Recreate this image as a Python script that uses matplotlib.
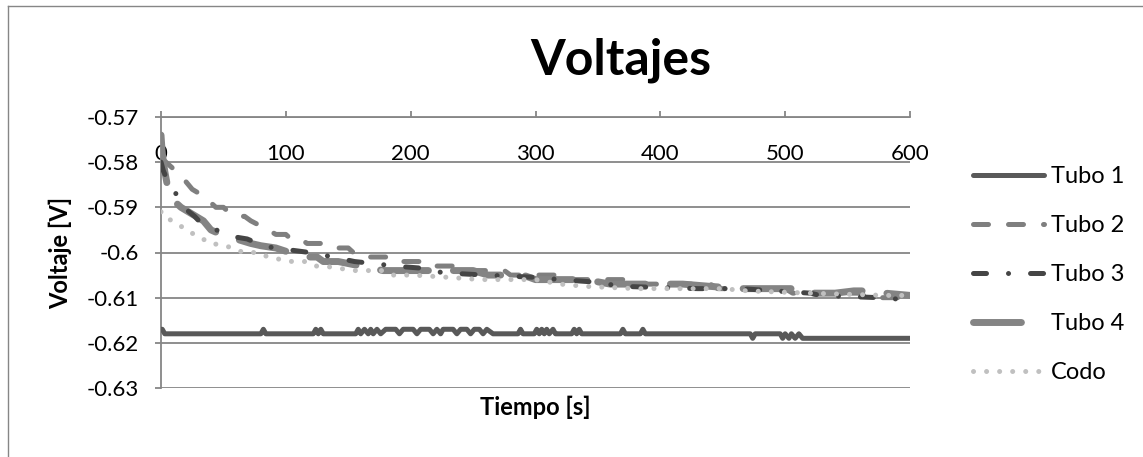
import matplotlib
matplotlib.use("Agg")
import matplotlib.pyplot as plt
from matplotlib.lines import Line2D

# ---------------- data ----------------
title = "Voltajes"
xlabel = "Tiempo [s]"
ylabel = "Voltaje [V]"
series_names = ["Tubo 1", "Tubo 2", "Tubo 3", "Tubo 4", "Codo"]

x_ticks = [0, 100, 200, 300, 400, 500, 600]
y_ticks = [-0.57, -0.58, -0.59, -0.60, -0.61, -0.62, -0.63]
y_tick_labels = ["-0.57", "-0.58", "-0.59", "-0.6", "-0.61", "-0.62", "-0.63"]

t_tubo1 = [0, 1, 3, 80, 82, 84, 122, 124, 126, 128, 130, 156, 158, 160, 163, 166, 168,
           170, 173, 176, 180, 185, 188, 191, 194, 202, 205, 208, 215, 218, 221, 224, 226,
           229, 234, 237, 240, 245, 248, 251, 255, 258, 261, 266, 286, 288, 290, 299, 301,
           303, 305, 307, 309, 311, 314, 316, 318, 329, 331, 333, 335, 337, 368, 370, 372,
           384, 386, 388, 472, 474, 476, 496, 498, 500, 503, 505, 508, 511, 514, 518, 600]
v_tubo1 = [-0.617, -0.617, -0.618, -0.618, -0.617, -0.618, -0.618, -0.617, -0.618, -0.617, -0.618,
           -0.618, -0.617, -0.618, -0.617, -0.618, -0.617,
           -0.618, -0.617, -0.618, -0.617, -0.617, -0.617, -0.618, -0.617, -0.617, -0.618, -0.617,
           -0.617, -0.618, -0.617, -0.618, -0.617,
           -0.617, -0.617, -0.618, -0.617, -0.617, -0.618, -0.617, -0.617, -0.618, -0.617, -0.618,
           -0.618, -0.617, -0.618, -0.618, -0.617,
           -0.618, -0.617, -0.618, -0.617, -0.618, -0.617, -0.618, -0.618, -0.618, -0.617, -0.618,
           -0.617, -0.618, -0.618, -0.617, -0.618,
           -0.618, -0.617, -0.618, -0.618, -0.619, -0.618, -0.618, -0.619, -0.618, -0.619,
           -0.618, -0.619, -0.618, -0.619, -0.619, -0.619]

t_tubo2 = [0, 4, 8, 12, 16, 19, 22, 25, 31, 36, 40, 44, 50, 54, 60, 67, 72, 79, 86, 92, 100,
           104, 112, 117, 135, 141, 150, 154, 162, 166, 186, 190, 212, 216, 238, 242, 275,
           280, 320, 326, 370, 376, 440, 446, 500, 506, 560, 566, 600]
v_tubo2 = [-0.579, -0.580, -0.581, -0.582, -0.583, -0.584, -0.585, -0.586, -0.587, -0.588,
           -0.589, -0.590, -0.590, -0.591, -0.592, -0.592, -0.593, -0.594, -0.595, -0.596,
           -0.596, -0.597, -0.597, -0.598, -0.598, -0.599, -0.599, -0.600, -0.600, -0.601,
           -0.601, -0.602, -0.602, -0.603, -0.603, -0.604, -0.604, -0.605, -0.605, -0.606,
           -0.606, -0.607, -0.607, -0.608, -0.608, -0.609, -0.609, -0.610, -0.610]

t_tubo3 = [0, 2, 6, 12, 18, 27, 32, 38, 50, 58, 69, 82, 91, 105, 119, 138, 155, 172, 187,
           210, 226, 260, 300, 320, 345, 370, 430, 464, 520, 528, 575, 600]
v_tubo3 = [-0.580, -0.582, -0.5845, -0.587, -0.590, -0.592, -0.5935, -0.5945, -0.5955,
           -0.5965, -0.597, -0.5985, -0.599, -0.5995, -0.600, -0.601, -0.602, -0.6025,
           -0.603, -0.6035, -0.6045, -0.605, -0.6055, -0.606, -0.6065, -0.6075, -0.608,
           -0.608, -0.609, -0.6095, -0.610, -0.6105]

t_tubo4 = [0, 1, 3, 5, 8, 12, 16, 22, 28, 34, 40, 48, 60, 72, 80, 92, 103, 115, 125, 130,
           142, 160, 178, 224, 250, 262, 290, 300, 330, 350, 360, 418, 440, 465, 508, 512,
           540, 555, 570, 580, 600]
v_tubo4 = [-0.574, -0.578, -0.582, -0.585, -0.588, -0.589, -0.590, -0.591, -0.592, -0.593,
           -0.595, -0.596, -0.597, -0.598, -0.5985, -0.599, -0.600, -0.601, -0.601, -0.602,
           -0.602, -0.603, -0.604, -0.604, -0.604, -0.605, -0.605, -0.606, -0.606, -0.6065,
           -0.607, -0.607, -0.6075, -0.608, -0.608, -0.609, -0.609, -0.6085, -0.6085,
           -0.609, -0.6095]

t_codo = [0, 2, 7, 15, 23, 31, 39, 49, 57, 66, 77, 86, 95, 105, 115, 123, 130, 143, 154,
          177, 186, 202, 230, 256, 300, 320, 340, 380, 450, 470, 520, 580, 600]
v_codo = [-0.591, -0.591, -0.5927, -0.594, -0.5955, -0.5965, -0.598, -0.5983, -0.599, -0.600,
          -0.600, -0.601, -0.6015, -0.602, -0.602, -0.603, -0.603, -0.6035, -0.604,
          -0.604, -0.605, -0.605, -0.6055, -0.606, -0.606, -0.607, -0.6075, -0.608, -0.608,
          -0.6085, -0.609, -0.6095, -0.6095]

# ---------------- style ----------------
W, H = 1143, 457
plt.rcParams["font.family"] = ["Lato", "DejaVu Sans"]
GRID = "#868686"

fig = plt.figure(figsize=(W / 100, H / 100), dpi=100)
ax = fig.add_axes([161 / W, 1 - 388 / H, (910 - 161) / W, (388 - 117) / H])

common = dict(solid_capstyle="round", solid_joinstyle="round",
              dash_capstyle="round", dash_joinstyle="round")
l1, = ax.plot(t_tubo1, v_tubo1, color="#595959", lw=3.6, zorder=3, **common)
l2, = ax.plot(t_tubo2, v_tubo2, color="#7f7f7f", lw=3.6, ls=(0, (3.0, 4.0)), zorder=4, **common)
l4, = ax.plot(t_tubo4, v_tubo4, color="#848484", lw=5.0, ls=(0, (6.9, 3.6)), zorder=5, **common)
l3, = ax.plot(t_tubo3, v_tubo3, color="#454545", lw=3.6, ls=(0, (2.6, 4.4, 0.01, 4.4)), zorder=6, **common)
l5, = ax.plot(t_codo, v_codo, color="#c0c0c0", lw=3.6, ls=(0, (0.01, 2.6)), zorder=7, **common)

ax.set_xlim(0, 600)
ax.set_ylim(-0.63, -0.57)
ax.set_xticks(x_ticks)
ax.set_xticklabels([str(v) for v in x_ticks])
ax.set_yticks(y_ticks)
ax.set_yticklabels(y_tick_labels)

for s in ["right", "bottom"]:
    ax.spines[s].set_visible(False)
for s in ["left", "top"]:
    ax.spines[s].set_color(GRID)
    ax.spines[s].set_linewidth(1.3)
ax.yaxis.grid(True, color=GRID, lw=1.3)
ax.set_axisbelow(True)

ax.xaxis.set_ticks_position("top")
ax.tick_params(axis="x", direction="out", length=4.3, width=1.3, color=GRID,
               labelsize=16, pad=-38, top=True, bottom=False, labeltop=True, labelbottom=False)
ax.tick_params(axis="y", direction="out", length=4.3, width=1.3, color=GRID,
               labelsize=16, pad=11.5)

ax.set_ylabel(ylabel, fontsize=17, fontweight="bold")
ax.yaxis.set_label_coords(-0.119, 0.5)
ax.set_xlabel(xlabel, fontsize=17, fontweight="bold")
ax.xaxis.set_label_position("bottom")
ax.xaxis.set_label_coords(0.5, -0.03)

fig.text(621 / W, 1 - 60 / H, title, ha="center", va="center", fontsize=36, fontweight="bold")

fig.legend([l1, l2, l3, l4, l5], series_names, loc="center left",
           bbox_to_anchor=(973 / W, 1 - 274.5 / H), frameon=False, fontsize=17,
           handlelength=3.0, handletextpad=0.3, labelspacing=1.19,
           borderpad=0, borderaxespad=0)

# outer chart border (left and top visible in the crop)
fig.add_artist(Line2D([8 / W, 8 / W], [0, 1 - 6 / H], transform=fig.transFigure, color=GRID, lw=1))
fig.add_artist(Line2D([8 / W, 1], [1 - 6 / H, 1 - 6 / H], transform=fig.transFigure, color=GRID, lw=1))

fig.savefig("out.png", dpi=100, facecolor="white")
